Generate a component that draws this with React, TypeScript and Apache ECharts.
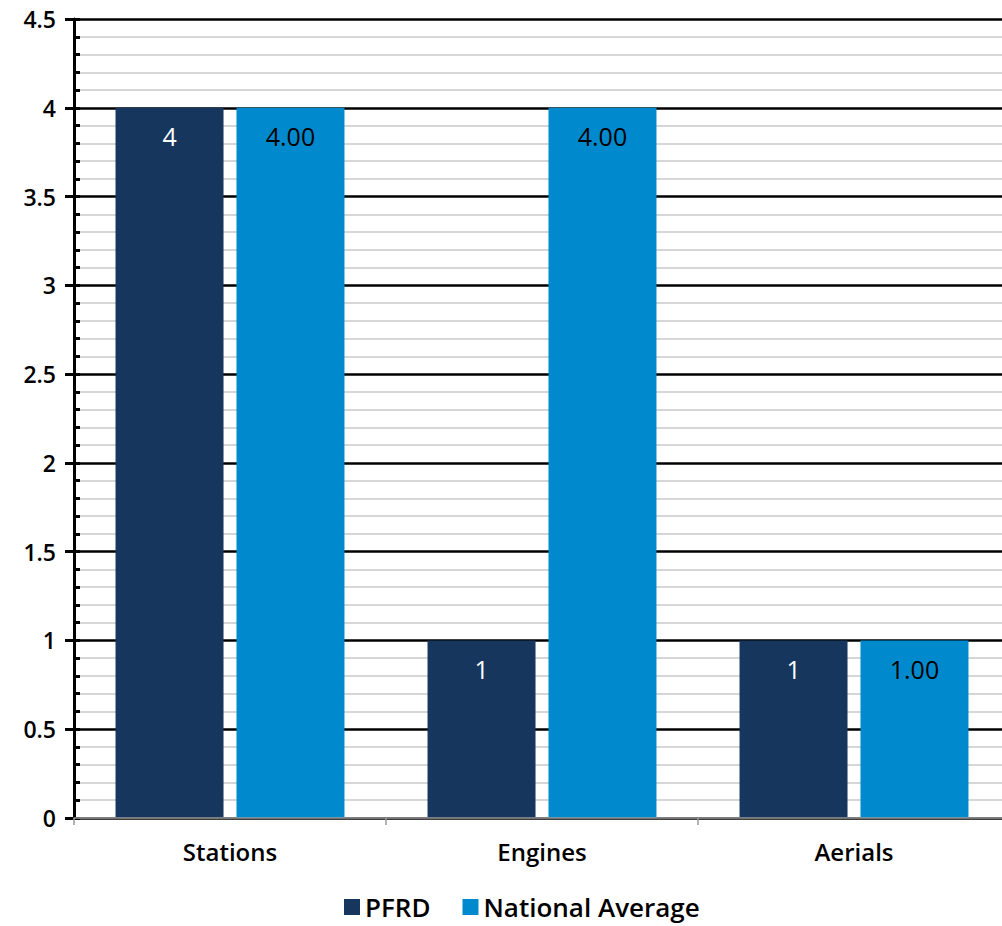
import React, { useEffect, useRef } from "react";
import * as echarts from "echarts";

const categories = ["Stations", "Engines", "Aerials"];
const pfrd = [4, 1, 1];
const nationalAverage = [4.0, 4.0, 1.0];
const seriesNames = ["PFRD", "National Average"];
const colors = ["#17365D", "#008ACD"];
const FONT = "Open Sans";

export default function App() {
  const ref = useRef<HTMLDivElement>(null);
  useEffect(() => {
    document.body.style.overflow = "hidden";
    const chart = echarts.init(ref.current!, null, { renderer: "svg" });
    const yCommon = {
      type: "value" as const,
      min: 0,
      max: 4.5,
      interval: 0.5,
      position: "left" as const,
    };
    chart.setOption({
      animation: false,
      textStyle: { fontFamily: FONT },
      grid: { left: 74, right: 0, top: 19, bottom: 108 },
      legend: {
        bottom: 1,
        left: 339,
        itemWidth: 16,
        itemHeight: 16,
        itemGap: 32,
        icon: "rect",
        textStyle: { fontSize: 26, fontWeight: 600, color: "#000", fontFamily: FONT },
        data: seriesNames,
      },
      xAxis: {
        type: "category",
        data: categories,
        axisLine: { lineStyle: { color: "#999", width: 1.5 } },
        axisTick: { show: true, length: 7, lineStyle: { color: "#999", width: 1.5 } },
        axisLabel: { fontSize: 24, fontWeight: 600, color: "#000", margin: 21, fontFamily: FONT },
        z: 5,
      },
      yAxis: [
        {
          ...yCommon,
          axisLine: { show: true, lineStyle: { color: "#000", width: 3 } },
          axisTick: { show: true, length: 9, lineStyle: { color: "#000", width: 3 } },
          axisLabel: {
            fontSize: 23,
            fontWeight: 600,
            color: "#000",
            margin: 18,
            fontFamily: FONT,
          },
          splitLine: { show: true, lineStyle: { color: "#000", width: 2.5 } },
          minorSplitLine: { show: true, lineStyle: { color: "#c8c8c8", width: 1.5 } },
          minorTick: { show: false, splitNumber: 5 },
        },
        {
          ...yCommon,
          axisLine: { show: false },
          axisTick: { show: true, inside: true, length: 6, lineStyle: { color: "#000", width: 3 } },
          minorTick: { show: true, splitNumber: 5, length: 6, lineStyle: { color: "#000", width: 3 } },
          axisLabel: { show: false },
          splitLine: { show: false },
        },
      ],
      series: [
        {
          name: seriesNames[0],
          type: "bar",
          data: pfrd,
          barWidth: 108,
          barGap: "12%",
          itemStyle: { color: colors[0] },
          label: {
            show: true,
            position: "insideTop",
            distance: 16,
            color: "#fff",
            fontSize: 25,
            fontFamily: FONT,
            formatter: (p: any) => String(p.value),
          },
        },
        {
          name: seriesNames[1],
          type: "bar",
          data: nationalAverage,
          barWidth: 108,
          barGap: "12%",
          itemStyle: { color: colors[1] },
          label: {
            show: true,
            position: "insideTop",
            distance: 16,
            color: "#000",
            fontSize: 25,
            fontFamily: FONT,
            formatter: (p: any) => Number(p.value).toFixed(2),
          },
        },
      ],
    });
    return () => chart.dispose();
  }, []);
  return (
    <div style={{ position: "absolute", left: 0, top: 0, width: 1002, height: 926, overflow: "hidden" }}>
      <div ref={ref} style={{ width: 1010, height: 926 }} />
    </div>
  );
}
